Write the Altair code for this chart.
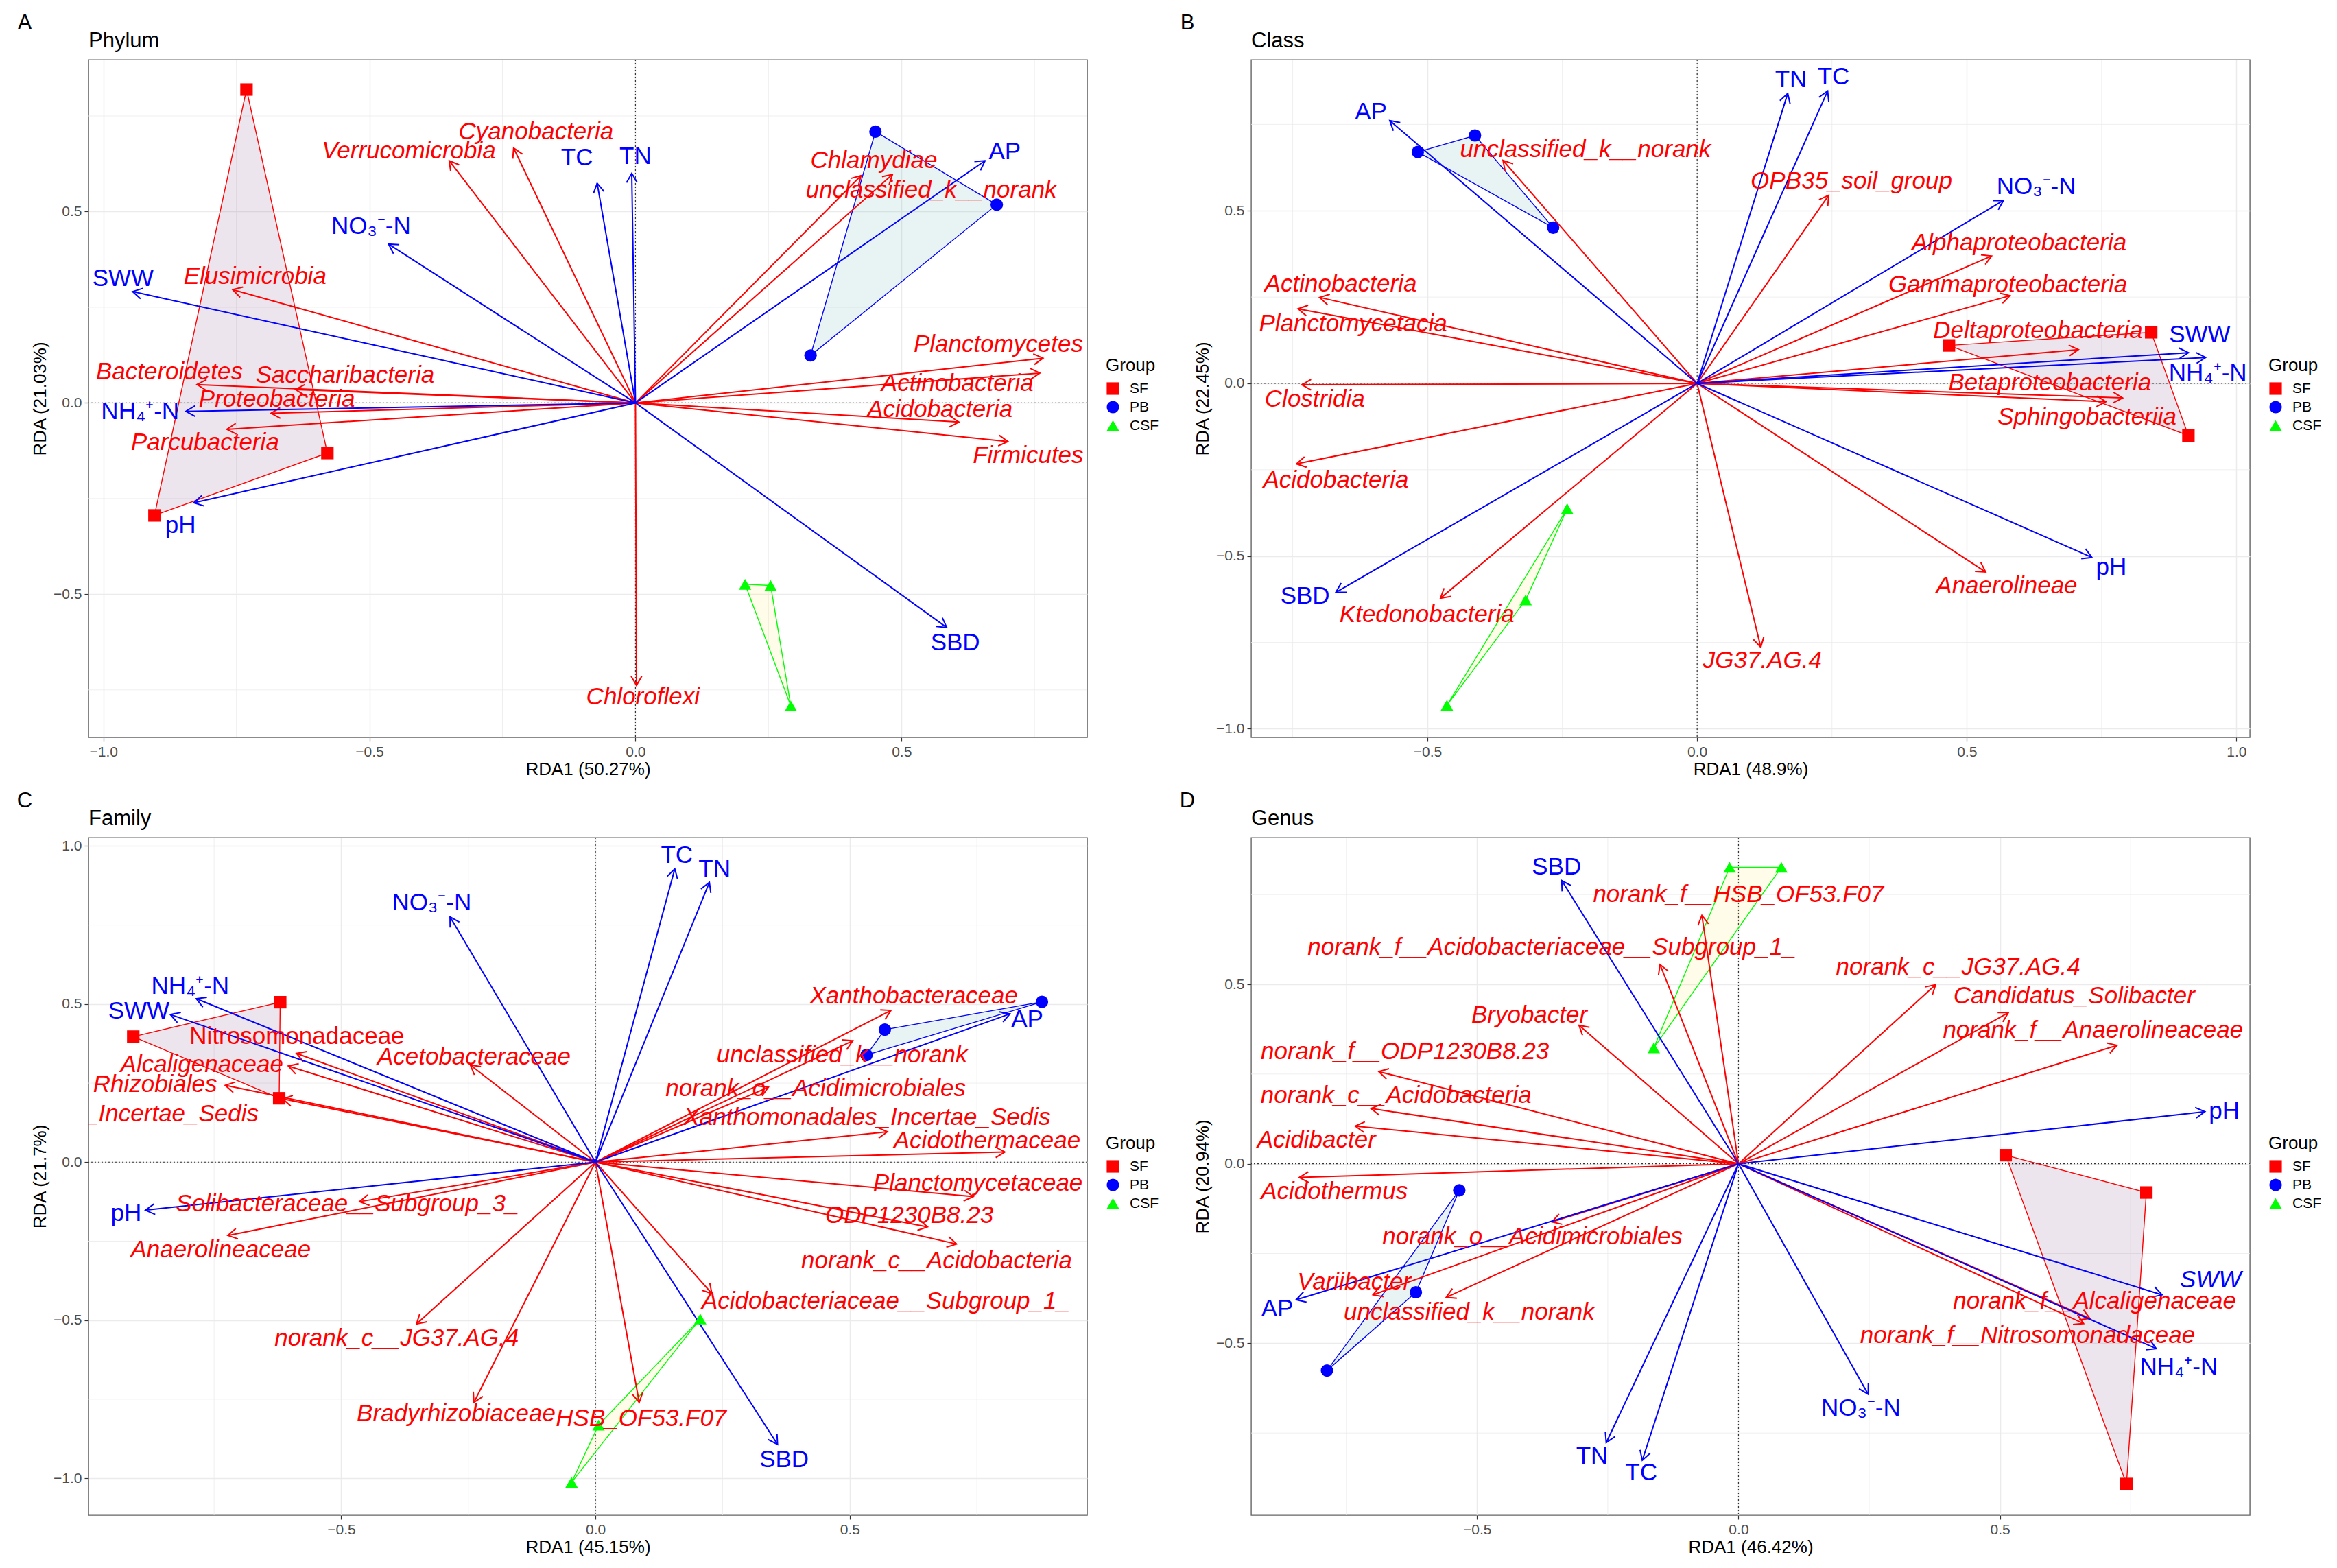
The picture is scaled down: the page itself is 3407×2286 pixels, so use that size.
import math
import altair as alt
import pandas as pd

FONT = "Liberation Sans"

GROUPS = ["SF", "PB", "CSF"]
GROUP_COLORS = ["#FF0000", "#0000FF", "#00FF00"]
GROUP_SHAPES = ["square", "circle", "triangle-up"]
GROUP_FILLS = ["#440154", "#21908C", "#FDE725"]
SAMPLE_GROUP = ["SF", "SF", "SF", "PB", "PB", "PB", "CSF", "CSF", "CSF"]

# ---------------- Panel A : Phylum ----------------
A_env = ["SWW", "NO₃⁻-N", "TC", "TN", "NH₄⁺-N", "pH", "AP", "SBD"]
A_env_x = [-0.945, -0.464, -0.072, -0.007, -0.845, -0.830, 0.657, 0.585]
A_env_y = [0.291, 0.415, 0.574, 0.600, -0.022, -0.261, 0.633, -0.587]
A_env_lx = [-0.963, -0.497, -0.110, 0.000, -0.931, -0.855, 0.694, 0.601]
A_env_ly = [0.326, 0.461, 0.640, 0.644, -0.022, -0.320, 0.657, -0.627]
A_sp = ["Cyanobacteria", "Verrucomicrobia", "Elusimicrobia", "Bacteroidetes",
        "Saccharibacteria", "Proteobacteria", "Parcubacteria", "Chloroflexi",
        "Chlamydiae", "unclassified_k__norank", "Planctomycetes",
        "Actinobacteria", "Acidobacteria", "Firmicutes"]
A_sp_x = [-0.229, -0.350, -0.757, -0.824, -0.639, -0.685, -0.768, 0.002,
          0.424, 0.483, 0.766, 0.760, 0.608, 0.700]
A_sp_y = [0.666, 0.633, 0.296, 0.048, 0.035, -0.027, -0.069, -0.738,
          0.594, 0.597, 0.117, 0.078, -0.050, -0.101]
A_sp_lx = [-0.187, -0.426, -0.715, -0.876, -0.546, -0.674, -0.809, 0.014,
           0.448, 0.556, 0.682, 0.605, 0.572, 0.738]
A_sp_ly = [0.709, 0.659, 0.330, 0.082, 0.072, 0.010, -0.104, -0.768,
           0.633, 0.557, 0.154, 0.051, -0.017, -0.137]
A_smp_x = [-0.731, -0.579, -0.904, 0.451, 0.679, 0.329, 0.206, 0.254, 0.292]
A_smp_y = [0.819, -0.131, -0.294, 0.709, 0.518, 0.124, -0.474, -0.477, -0.792]

# ---------------- Panel B : Class ----------------
B_env = ["AP", "SBD", "TN", "TC", "NO₃⁻-N", "SWW", "NH₄⁺-N", "pH"]
B_env_x = [-0.570, -0.670, 0.168, 0.242, 0.568, 0.911, 0.943, 0.732]
B_env_y = [0.761, -0.605, 0.840, 0.847, 0.530, 0.089, 0.075, -0.504]
B_env_lx = [-0.605, -0.727, 0.174, 0.253, 0.629, 0.932, 0.947, 0.768]
B_env_ly = [0.787, -0.615, 0.879, 0.888, 0.571, 0.141, 0.029, -0.533]
B_sp = ["unclassified_k__norank", "Actinobacteria", "Planctomycetacia",
        "Clostridia", "Acidobacteria", "Ktedonobacteria", "JG37.AG.4",
        "OPB35_soil_group", "Alphaproteobacteria", "Gammaproteobacteria",
        "Deltaproteobacteria", "Betaproteobacteria", "Sphingobacteriia",
        "Anaerolineae"]
B_sp_x = [-0.360, -0.700, -0.740, -0.733, -0.743, -0.476, 0.118,
          0.244, 0.546, 0.580, 0.707, 0.789, 0.758, 0.535]
B_sp_y = [0.646, 0.249, 0.216, -0.004, -0.233, -0.622, -0.764,
          0.545, 0.369, 0.254, 0.098, -0.042, -0.053, -0.546]
B_sp_lx = [-0.207, -0.661, -0.638, -0.709, -0.670, -0.501, 0.121,
           0.286, 0.597, 0.576, 0.632, 0.654, 0.723, 0.574]
B_sp_ly = [0.677, 0.288, 0.173, -0.046, -0.280, -0.669, -0.803,
           0.585, 0.408, 0.285, 0.153, 0.001, -0.097, -0.586]
B_smp_x = [0.467, 0.842, 0.911, -0.518, -0.412, -0.267, -0.241, -0.318, -0.464]
B_smp_y = [0.110, 0.148, -0.151, 0.670, 0.718, 0.451, -0.363, -0.627, -0.932]

# ---------------- Panel C : Family ----------------
C_env = ["NO₃⁻-N", "NH₄⁺-N", "SWW", "pH", "TC", "TN", "AP", "SBD"]
C_env_x = [-0.286, -0.785, -0.836, -0.885, 0.156, 0.224, 0.815, 0.358]
C_env_y = [0.776, 0.517, 0.467, -0.152, 0.928, 0.885, 0.469, -0.893]
C_env_lx = [-0.322, -0.797, -0.898, -0.923, 0.160, 0.234, 0.849, 0.371]
C_env_ly = [0.821, 0.557, 0.477, -0.163, 0.971, 0.928, 0.451, -0.941]
C_sp = ["Nitrosomonadaceae", "Alcaligenaceae", "Rhizobiales",
        "Rhizobiales_Incertae_Sedis", "Acetobacteraceae",
        "Solibacteraceae__Subgroup_3_", "Anaerolineaceae",
        "norank_c__JG37.AG.4", "Bradyrhizobiaceae", "HSB_OF53.F07",
        "Xanthobacteraceae", "unclassified_k__norank",
        "norank_o__Acidimicrobiales", "Xanthomonadales_Incertae_Sedis",
        "Acidothermaceae", "Planctomycetaceae", "ODP1230B8.23",
        "norank_c__Acidobacteria", "Acidobacteriaceae__Subgroup_1_"]
C_sp_x = [-0.588, -0.604, -0.728, -0.615, -0.246, -0.464, -0.723, -0.352,
          -0.239, 0.086, 0.581, 0.506, 0.340, 0.574, 0.805, 0.743, 0.653,
          0.710, 0.229]
C_sp_y = [0.344, 0.304, 0.243, 0.200, 0.307, -0.125, -0.232, -0.512,
          -0.760, -0.760, 0.480, 0.384, 0.237, 0.096, 0.032, -0.109, -0.205,
          -0.259, -0.416]
C_sp_lx = [-0.587, -0.774, -0.866, -0.955, -0.239, -0.488, -0.737, -0.391,
           -0.274, 0.090, 0.626, 0.485, 0.433, 0.534, 0.770, 0.752, 0.617,
           0.671, 0.571]
C_sp_ly = [0.397, 0.308, 0.245, 0.152, 0.333, -0.131, -0.277, -0.557,
           -0.795, -0.812, 0.525, 0.339, 0.232, 0.141, 0.067, -0.067, -0.168,
           -0.312, -0.440]
C_smp_x = [-0.909, -0.620, -0.622, 0.878, 0.569, 0.533, 0.206, 0.006, -0.047]
C_smp_y = [0.397, 0.506, 0.202, 0.507, 0.419, 0.339, -0.496, -0.832, -1.013]

# ---------------- Panel D : Genus ----------------
D_env = ["SBD", "AP", "TN", "TC", "pH", "SWW", "NH₄⁺-N", "NO₃⁻-N"]
D_env_x = [-0.338, -0.846, -0.253, -0.184, 0.892, 0.810, 0.799, 0.248]
D_env_y = [0.789, -0.379, -0.777, -0.826, 0.145, -0.365, -0.515, -0.642]
D_env_lx = [-0.348, -0.882, -0.280, -0.186, 0.929, 0.903, 0.842, 0.234]
D_env_ly = [0.826, -0.403, -0.815, -0.861, 0.147, -0.323, -0.566, -0.681]
D_sp = ["norank_f__HSB_OF53.F07", "norank_f__Acidobacteriaceae__Subgroup_1_",
        "Bryobacter", "norank_f__ODP1230B8.23", "norank_c__Acidobacteria",
        "Acidibacter", "Acidothermus", "norank_o__Acidimicrobiales",
        "Variibacter", "unclassified_k__norank", "norank_c__JG37.AG.4",
        "Candidatus_Solibacter", "norank_f__Anaerolineaceae",
        "norank_f__Alcaligenaceae", "norank_f__Nitrosomonadaceae"]
D_sp_x = [-0.070, -0.150, -0.305, -0.688, -0.703, -0.733, -0.840, -0.357,
          -0.699, -0.559, 0.377, 0.516, 0.724, 0.672, 0.660]
D_sp_y = [0.692, 0.555, 0.386, 0.257, 0.154, 0.105, -0.038, -0.162,
          -0.365, -0.372, 0.499, 0.421, 0.330, -0.431, -0.445]
D_sp_lx = [0.000, -0.357, -0.400, -0.638, -0.655, -0.807, -0.773, -0.394,
           -0.735, -0.515, 0.420, 0.642, 0.678, 0.681, 0.553]
D_sp_ly = [0.750, 0.604, 0.414, 0.312, 0.190, 0.066, -0.077, -0.204,
           -0.330, -0.414, 0.548, 0.468, 0.372, -0.383, -0.478]
D_smp_x = [0.511, 0.780, 0.742, -0.534, -0.617, -0.787, -0.017, 0.082, -0.162]
D_smp_y = [0.024, -0.080, -0.892, -0.074, -0.358, -0.576, 0.826, 0.826, 0.323]

# ---------------- styling / layout ----------------
W, H = 1456, 988
RED, BLUE = "#FF0000", "#0000FF"
ARROW = "M -1 -0.577 L 0 0 L -1 0.577"
LABEL_SIZE = 35


def panel(tag, title, xtitle, ytitle, xdom, ydom, xmaj, ymaj, xminor, yminor,
          env, ex, ey, elx, ely, sp, spx, spy, slx, sly, gx, gy,
          italic_env=(), upright_sp=()):
    kx = W / (xdom[1] - xdom[0])
    ky = H / (ydom[1] - ydom[0])

    def ang(x, y):
        return math.degrees(math.atan2(-y * ky, x * kx)) % 360

    xs = alt.Scale(domain=xdom, nice=False, zero=False)
    ys = alt.Scale(domain=ydom, nice=False, zero=False)
    xax = alt.Axis(title=xtitle, values=xmaj, format=".1f")
    yax = alt.Axis(title=ytitle, values=ymaj, format=".1f")

    def X(f):
        return alt.X(f, type="quantitative", scale=xs, axis=xax)

    def Y(f):
        return alt.Y(f, type="quantitative", scale=ys, axis=yax)

    layers = []
    # minor grid
    layers.append(alt.Chart(pd.DataFrame({"v": xminor})).mark_rule(
        color="#EBEBEB", strokeWidth=0.8).encode(x=X("v")))
    layers.append(alt.Chart(pd.DataFrame({"v": yminor})).mark_rule(
        color="#EBEBEB", strokeWidth=0.8).encode(y=Y("v")))
    # zero reference lines
    zero = pd.DataFrame({"v": [0.0]})
    layers.append(alt.Chart(zero).mark_rule(
        color="#333333", strokeWidth=1.2, strokeDash=[2, 3]).encode(x=X("v")))
    layers.append(alt.Chart(zero).mark_rule(
        color="#333333", strokeWidth=1.2, strokeDash=[2, 3]).encode(y=Y("v")))

    samples = pd.DataFrame({"group": SAMPLE_GROUP, "x": gx, "y": gy,
                            "o": list(range(len(gx)))})
    # group hulls
    for g, col, fcol in zip(GROUPS, GROUP_COLORS, GROUP_FILLS):
        sub = samples[samples.group == g]
        layers.append(alt.Chart(sub).mark_line(
            interpolate="linear-closed", stroke=col, strokeWidth=1.4,
            fill=fcol, fillOpacity=0.1).encode(x=X("x"), y=Y("y"),
                                               order="o:Q"))

    envdf = pd.DataFrame({"name": env, "x": ex, "y": ey, "lx": elx, "ly": ely,
                          "x0": 0.0, "y0": 0.0})
    envdf["ang"] = [ang(a, b) for a, b in zip(ex, ey)]
    spdf = pd.DataFrame({"name": sp, "x": spx, "y": spy, "lx": slx, "ly": sly,
                         "x0": 0.0, "y0": 0.0})
    spdf["ang"] = [ang(a, b) for a, b in zip(spx, spy)]

    for df, col in ((spdf, RED), (envdf, BLUE)):
        layers.append(alt.Chart(df).mark_rule(color=col, strokeWidth=2).encode(
            x=X("x0"), y=Y("y0"), x2=alt.X2("x"), y2=alt.Y2("y")))
        layers.append(alt.Chart(df).mark_point(
            shape=ARROW, filled=False, size=729, color=col, strokeWidth=2,
            opacity=1).encode(x=X("x"), y=Y("y"),
                              angle=alt.Angle("ang:Q", scale=None)))

    leg = alt.Legend(title="Group", orient="none", legendX=W + 27, legendY=433)
    layers.append(alt.Chart(samples).mark_point(filled=True, opacity=1).encode(
        x=X("x"), y=Y("y"),
        color=alt.Color("group:N", scale=alt.Scale(domain=GROUPS, range=GROUP_COLORS),
                        legend=leg),
        shape=alt.Shape("group:N", scale=alt.Scale(domain=GROUPS, range=GROUP_SHAPES),
                        legend=leg),
        size=alt.Size("group:N", scale=alt.Scale(domain=GROUPS, range=[330, 330, 450]),
                      legend=None)))

    # labels
    def text_layer(df, col, style):
        if len(df) == 0:
            return None
        return alt.Chart(df).mark_text(
            color=col, fontSize=LABEL_SIZE, font=FONT, fontStyle=style,
            align="center", baseline="middle", clip=True).encode(
            x=X("lx"), y=Y("ly"), text="name:N")

    for lyr in (
        text_layer(envdf[~envdf.name.isin(italic_env)], BLUE, "normal"),
        text_layer(envdf[envdf.name.isin(italic_env)], BLUE, "italic"),
        text_layer(spdf[~spdf.name.isin(upright_sp)], RED, "italic"),
        text_layer(spdf[spdf.name.isin(upright_sp)], RED, "normal"),
    ):
        if lyr is not None:
            layers.append(lyr)

    # panel tag and panel title (placed above the plot area)
    layers.append(alt.Chart(pd.DataFrame({"t": [tag]})).mark_text(
        fontSize=31, font=FONT, color="black", align="center",
        baseline="middle").encode(x=alt.value(-93), y=alt.value(-53),
                                  text="t:N"))
    layers.append(alt.Chart(pd.DataFrame({"t": [title]})).mark_text(
        fontSize=31, font=FONT, color="black", align="left",
        baseline="middle").encode(x=alt.value(0), y=alt.value(-27),
                                  text="t:N"))

    return alt.layer(*layers).properties(width=W, height=H)


MINOR = [-0.75, -0.25, 0.25, 0.75]

pA = panel("A", "Phylum", "RDA1 (50.27%)", "RDA (21.03%)",
           [-1.028, 0.849], [-0.874, 0.897], [-1.0, -0.5, 0.0, 0.5],
           [-0.5, 0.0, 0.5], MINOR, MINOR,
           A_env, A_env_x, A_env_y, A_env_lx, A_env_ly,
           A_sp, A_sp_x, A_sp_y, A_sp_lx, A_sp_ly, A_smp_x, A_smp_y)
pB = panel("B", "Class", "RDA1 (48.9%)", "RDA (22.45%)",
           [-0.827, 1.025], [-1.025, 0.9375], [-0.5, 0.0, 0.5, 1.0],
           [-1.0, -0.5, 0.0, 0.5], MINOR, MINOR,
           B_env, B_env_x, B_env_y, B_env_lx, B_env_ly,
           B_sp, B_sp_x, B_sp_y, B_sp_lx, B_sp_ly, B_smp_x, B_smp_y)
pC = panel("C", "Family", "RDA1 (45.15%)", "RDA (21.7%)",
           [-0.997, 0.967], [-1.117, 1.027], [-0.5, 0.0, 0.5],
           [-1.0, -0.5, 0.0, 0.5, 1.0], MINOR, MINOR,
           C_env, C_env_x, C_env_y, C_env_lx, C_env_ly,
           C_sp, C_sp_x, C_sp_y, C_sp_lx, C_sp_ly, C_smp_x, C_smp_y,
           upright_sp=("Nitrosomonadaceae",))
pD = panel("D", "Genus", "RDA1 (46.42%)", "RDA (20.94%)",
           [-0.932, 0.978], [-0.979, 0.909], [-0.5, 0.0, 0.5],
           [-0.5, 0.0, 0.5], MINOR, MINOR,
           D_env, D_env_x, D_env_y, D_env_lx, D_env_ly,
           D_sp, D_sp_x, D_sp_y, D_sp_lx, D_sp_ly, D_smp_x, D_smp_y,
           italic_env=("SWW",))

indep = dict(color="independent", shape="independent", size="independent")
row1 = alt.hconcat(pA, pB, spacing=29).resolve_scale(**indep).resolve_legend(
    color="independent", shape="independent")
row2 = alt.hconcat(pC, pD, spacing=29).resolve_scale(**indep).resolve_legend(
    color="independent", shape="independent")

chart = alt.vconcat(row1, row2, spacing=16).resolve_scale(**indep).resolve_legend(
    color="independent", shape="independent"
).properties(
    padding={"left": 16, "top": 9, "right": 5, "bottom": 5}
).configure_view(
    stroke="#666666", strokeWidth=1.4
).configure_axis(
    labelFont=FONT, titleFont=FONT, labelFontSize=21, titleFontSize=26,
    labelColor="#4D4D4D", titleColor="black", titleFontWeight="normal",
    tickColor="#333333", tickSize=6, tickWidth=1.2, domain=False,
    grid=True, gridColor="#EBEBEB", gridWidth=1.5, labelPadding=4,
    labelFlush=False
).configure_axisX(
    titlePadding=2
).configure_axisY(
    titlePadding=6
).configure_legend(
    titleFont=FONT, labelFont=FONT, titleFontSize=26, labelFontSize=21,
    titleFontWeight="normal", titleColor="black", labelColor="black",
    symbolSize=400, symbolStrokeWidth=1.5, rowPadding=5, titlePadding=10,
    labelOffset=14
)

chart.save("out.html", embed_options={"renderer": "svg", "actions": False})
